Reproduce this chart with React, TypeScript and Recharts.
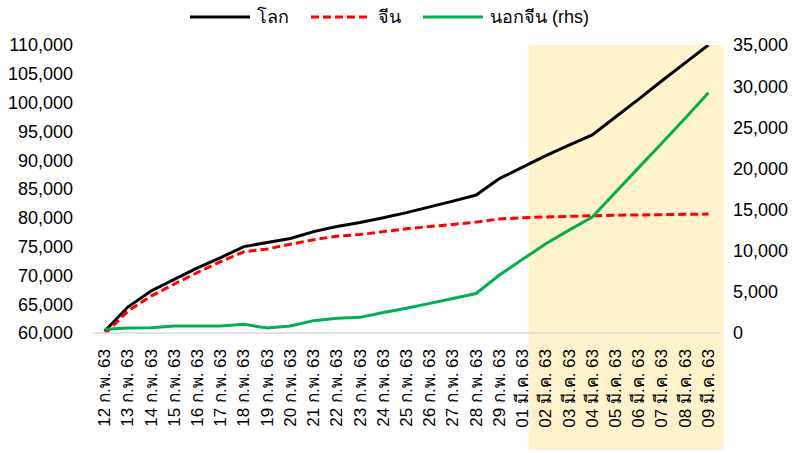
import { LineChart, Line, XAxis, YAxis, ReferenceArea, Legend } from 'recharts';

const DATES = [
  '12 ก.พ. 63', '13 ก.พ. 63', '14 ก.พ. 63', '15 ก.พ. 63', '16 ก.พ. 63', '17 ก.พ. 63',
  '18 ก.พ. 63', '19 ก.พ. 63', '20 ก.พ. 63', '21 ก.พ. 63', '22 ก.พ. 63', '23 ก.พ. 63',
  '24 ก.พ. 63', '25 ก.พ. 63', '26 ก.พ. 63', '27 ก.พ. 63', '28 ก.พ. 63', '29 ก.พ. 63',
  '01 มี.ค. 63', '02 มี.ค. 63', '03 มี.ค. 63', '04 มี.ค. 63', '05 มี.ค. 63', '06 มี.ค. 63',
  '07 มี.ค. 63', '08 มี.ค. 63', '09 มี.ค. 63',
];

// left axis
const WORLD = [
  60300, 64500, 67300, 69300, 71300, 73100, 75000, 75700, 76400, 77600, 78500, 79200, 80000, 80900,
  81900, 82900, 83950, 86800, 88800, 90800, 92600, 94400, 97500, 100600, 103800, 106900, 110000,
];
const CHINA = [
  59800, 63800, 66400, 68500, 70500, 72400, 74100, 74600, 75400, 76200, 76800, 77100, 77600, 78100,
  78500, 78850, 79250, 79800, 80000, 80150, 80250, 80350, 80450, 80500, 80550, 80600, 80650,
];
// right axis
const EX_CHINA = [
  450, 600, 650, 850, 850, 850, 1050, 600, 850, 1500, 1800, 1900, 2500, 3000, 3600, 4200, 4800,
  7050, 8950, 10850, 12500, 14100, 17100, 20100, 23100, 26100, 29200,
];

const LEFT_TICKS = [60000, 65000, 70000, 75000, 80000, 85000, 90000, 95000, 100000, 105000, 110000];
const RIGHT_TICKS = [0, 5000, 10000, 15000, 20000, 25000, 30000, 35000];

const SERIES = [
  { key: 'world', name: 'โลก', color: '#000000', dash: undefined, axis: 'left' },
  { key: 'china', name: 'จีน', color: '#ff0000', dash: '8 4', axis: 'left' },
  { key: 'exChina', name: 'นอกจีน (rhs)', color: '#00b050', dash: undefined, axis: 'right' },
];

const data = DATES.map((date, i) => ({
  date,
  world: WORLD[i],
  china: CHINA[i],
  exChina: EX_CHINA[i],
}));

const fmt = (v: number) => v.toLocaleString('en-US');

function DateTick({ x, y, payload }: any) {
  return (
    <text
      transform={`translate(${x},${y}) rotate(-90)`}
      textAnchor="end"
      dominantBaseline="central"
      fontSize={17}
      fill="#000"
    >
      {payload.value}
    </text>
  );
}

function ShadeShape({ x, y, width, height }: any) {
  return <rect x={x + 6} y={y} width={width + 9} height={height + 117} fill="#fff2cc" />;
}

function LegendContent() {
  return (
    <div style={{ display: 'flex', justifyContent: 'center', paddingTop: 2, paddingLeft: 4, fontSize: 18, color: '#000' }}>
      {SERIES.map((s) => (
        <div key={s.key} style={{ display: 'flex', alignItems: 'center', marginRight: 22 }}>
          <svg width={60} height={6}>
            <line x1={0} y1={3} x2={60} y2={3} stroke={s.color} strokeWidth={3} strokeDasharray={s.dash} />
          </svg>
          <span style={{ marginLeft: 7 }}>{s.name}</span>
        </div>
      ))}
    </div>
  );
}

export default function App() {
  return (
    <div style={{ position: 'absolute', left: 0, top: 0, background: '#fff', fontFamily: "'Liberation Sans', 'Noto Sans', sans-serif" }}>
      <LineChart width={797} height={453} data={data} margin={{ top: 0, right: 0, bottom: 0, left: 0 }}>
        <ReferenceArea yAxisId="left" x1={DATES[18]} x2={DATES[26]} shape={<ShadeShape />} />
        <XAxis
          dataKey="date"
          height={120}
          interval={0}
          padding={{ left: 11.6, right: 11.6 }}
          tick={<DateTick />}
          tickLine={false}
          tickSize={0}
          tickMargin={16}
          axisLine={{ stroke: '#d9d9d9', strokeWidth: 1.5 }}
        />
        <YAxis
          yAxisId="left"
          width={93}
          domain={[60000, 110000]}
          ticks={LEFT_TICKS}
          tickFormatter={fmt}
          axisLine={false}
          tickLine={false}
          tickSize={0}
          tickMargin={20}
          tick={{ fontSize: 18, fill: '#000' }}
          allowDataOverflow
        />
        <YAxis
          yAxisId="right"
          orientation="right"
          width={77}
          domain={[0, 35000]}
          ticks={RIGHT_TICKS}
          tickFormatter={fmt}
          axisLine={false}
          tickLine={false}
          tickSize={0}
          tickMargin={13}
          tick={{ fontSize: 18, fill: '#000', textAnchor: 'start' }}
        />
        <Legend verticalAlign="top" height={45} content={<LegendContent />} />
        {SERIES.map((s) => (
          <Line
            key={s.key}
            yAxisId={s.axis}
            dataKey={s.key}
            name={s.name}
            stroke={s.color}
            strokeWidth={3}
            strokeDasharray={s.dash}
            dot={false}
            type="linear"
            isAnimationActive={false}
          />
        ))}
      </LineChart>
    </div>
  );
}
